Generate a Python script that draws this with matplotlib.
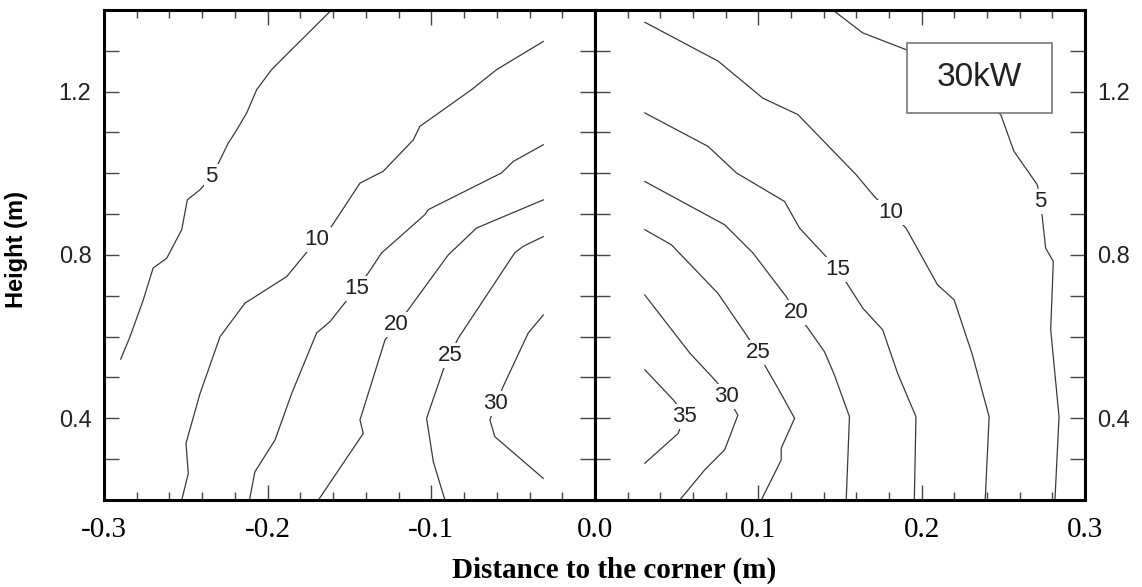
import matplotlib.pyplot as plt
from matplotlib.ticker import MultipleLocator, FixedLocator, FixedFormatter
from matplotlib.patches import Rectangle

# Contour lines, left half (x < 0), levels and traced points
left_levels = [5, 10, 15, 20, 25, 30]
L5_x = [-0.2898, -0.2841, -0.276, -0.270, -0.2617, -0.2525, -0.2491, -0.2413, -0.2342,
        -0.2291, -0.2241, -0.22, -0.2128, -0.2067, -0.1976, -0.1874, -0.161]
L5_y = [0.545, 0.60, 0.69, 0.768, 0.792, 0.862, 0.935, 0.960, 0.992,
        1.033, 1.074, 1.099, 1.148, 1.205, 1.254, 1.295, 1.40]
L10_x = [-0.2525, -0.2485, -0.2499, -0.2413, -0.2291, -0.2139, -0.1884, -0.1783, -0.1701,
         -0.161, -0.1436, -0.1294, -0.111, -0.107, -0.0754, -0.0601, -0.0316]
L10_y = [0.20, 0.265, 0.339, 0.461, 0.600, 0.682, 0.747, 0.796, 0.837,
         0.870, 0.976, 1.005, 1.082, 1.115, 1.205, 1.254, 1.323]
L15_x = [-0.2111, -0.2078, -0.1955, -0.1853, -0.1701, -0.1619, -0.1538, -0.1456,
         -0.1385, -0.1304, -0.1039, -0.1019, -0.0571, -0.05, -0.0316]
L15_y = [0.20, 0.269, 0.347, 0.461, 0.609, 0.637, 0.678, 0.719,
         0.756, 0.805, 0.899, 0.911, 1.001, 1.029, 1.07]
L20_x = [-0.169, -0.1416, -0.1436, -0.1283, -0.1212, -0.1141, -0.0897, -0.0724, -0.0316]
L20_y = [0.20, 0.363, 0.396, 0.592, 0.629, 0.666, 0.80, 0.866, 0.935]
L25_x = [-0.0917, -0.0988, -0.1029, -0.0927, -0.0886, -0.0836, -0.0491, -0.044, -0.0316]
L25_y = [0.20, 0.294, 0.40, 0.519, 0.555, 0.596, 0.805, 0.821, 0.845]
L30_x = [-0.0316, -0.0612, -0.0642, -0.0605, -0.0561, -0.0408, -0.0316]
L30_y = [0.253, 0.355, 0.396, 0.437, 0.478, 0.609, 0.653]
left_x = [L5_x, L10_x, L15_x, L20_x, L25_x, L30_x]
left_y = [L5_y, L10_y, L15_y, L20_y, L25_y, L30_y]
left_label_at = [8, 8, 7, 4, 4, 3]   # index of the point carrying the level label

# Contour lines, right half (x > 0)
right_levels = [5, 10, 15, 20, 25, 30, 35]
R5_x = [0.1456, 0.1639, 0.1904, 0.2484, 0.2565, 0.2708, 0.2729, 0.2739, 0.2759,
        0.2806, 0.279, 0.2841, 0.2816]
R5_y = [1.40, 1.344, 1.303, 1.144, 1.054, 0.972, 0.931, 0.89, 0.817,
        0.784, 0.617, 0.404, 0.20]
R10_x = [0.0305, 0.0753, 0.1028, 0.1242, 0.1598, 0.1711, 0.1812, 0.1904, 0.2097,
         0.2199, 0.2311, 0.2413, 0.2389]
R10_y = [1.37, 1.275, 1.184, 1.144, 0.997, 0.943, 0.903, 0.866, 0.727,
         0.69, 0.555, 0.404, 0.20]
R15_x = [0.0305, 0.0692, 0.0866, 0.1161, 0.1252, 0.1415, 0.1487, 0.1548, 0.1639,
         0.1761, 0.1853, 0.1965, 0.1955]
R15_y = [1.148, 1.066, 1.001, 0.931, 0.866, 0.796, 0.764, 0.727, 0.67,
         0.617, 0.51, 0.404, 0.20]
R20_x = [0.0305, 0.0794, 0.0967, 0.11, 0.1171, 0.1232, 0.1303, 0.1405, 0.1466, 0.1558, 0.1538]
R20_y = [0.98, 0.874, 0.805, 0.735, 0.698, 0.658, 0.621, 0.563, 0.506, 0.404, 0.20]
R25_x = [0.0305, 0.0468, 0.0753, 0.0927, 0.0998, 0.1049, 0.112, 0.1222, 0.114, 0.114, 0.1018]
R25_y = [0.862, 0.825, 0.706, 0.604, 0.561, 0.523, 0.474, 0.40, 0.327, 0.298, 0.20]
R30_x = [0.0305, 0.058, 0.0743, 0.0808, 0.0875, 0.0794, 0.0672, 0.0519]
R30_y = [0.702, 0.56, 0.49, 0.453, 0.408, 0.323, 0.274, 0.20]
R35_x = [0.0305, 0.0489, 0.0546, 0.0509, 0.0305]
R35_y = [0.519, 0.441, 0.404, 0.363, 0.29]
right_x = [R5_x, R10_x, R15_x, R20_x, R25_x, R30_x, R35_x]
right_y = [R5_y, R10_y, R15_y, R20_y, R25_y, R30_y, R35_y]
right_label_at = [6, 6, 6, 5, 4, 3, 2]

power_label = "30kW"

W, H = 1142, 587
fig = plt.figure(figsize=(W / 100, H / 100), dpi=100)
x0, xm, x1 = 104 / W, 595 / W, 1085 / W
y0, y1 = 1 - 500 / H, 1 - 10 / H
ax_l = fig.add_axes([x0, y0, xm - x0, y1 - y0])
ax_r = fig.add_axes([xm, y0, x1 - xm, y1 - y0])

line_col = "#3a3a3a"


def draw_contours(ax, xs, ys, levels, label_at):
    for x, y, lev, i in zip(xs, ys, levels, label_at):
        ax.plot(x, y, color=line_col, lw=0.9, zorder=2)
        # white box behind the number breaks the line
        ax.text(x[i], y[i], str(lev), fontsize=16, family="Liberation Sans",
                color="#222222", ha="center", va="center", zorder=3,
                bbox=dict(fc="white", ec="none", pad=1.5))


draw_contours(ax_l, left_x, left_y, left_levels, left_label_at)
draw_contours(ax_r, right_x, right_y, right_levels, right_label_at)

ax_l.set_xlim(-0.3, 0.0)
ax_r.set_xlim(0.0, 0.3)
for ax in (ax_l, ax_r):
    ax.set_ylim(0.2, 1.4)
    for s in ax.spines.values():
        s.set_linewidth(2.2)
    ax.xaxis.set_minor_locator(MultipleLocator(0.02))
    ax.yaxis.set_minor_locator(MultipleLocator(0.1))
    ax.tick_params(which="both", direction="in", top=True, bottom=True,
                   left=True, right=True, width=1.0, color="#444444")
    ax.tick_params(axis="x", which="major", length=11, pad=12, labelsize=21)
    ax.tick_params(axis="x", which="minor", length=5.5)
    ax.tick_params(axis="y", which="both", length=11, pad=9, labelsize=17)

ax_l.xaxis.set_major_locator(FixedLocator([-0.3, -0.2, -0.1, 0.0]))
ax_l.xaxis.set_major_formatter(FixedFormatter(["-0.3", "-0.2", "-0.1", "0.0"]))
ax_r.xaxis.set_major_locator(FixedLocator([0.0, 0.1, 0.2, 0.3]))
ax_r.xaxis.set_major_formatter(FixedFormatter(["", "0.1", "0.2", "0.3"]))
ax_l.yaxis.set_major_locator(FixedLocator([0.4, 0.8, 1.2]))
ax_r.yaxis.set_major_locator(FixedLocator([0.4, 0.8, 1.2]))
ax_l.tick_params(axis="y", labelleft=True, labelright=False)
ax_r.tick_params(axis="y", labelleft=False, labelright=True)
for ax in (ax_l, ax_r):
    for lab in ax.get_xticklabels():
        lab.set_family("Liberation Serif")
    for lab in ax.get_yticklabels():
        lab.set_family("Liberation Sans")
        lab.set_color("#222222")

ax_l.set_ylabel("Height (m)", fontsize=17, fontweight="bold", family="Liberation Sans")
ax_l.yaxis.set_label_coords(-0.155, 0.512)

fig.text(614 / W, 1 - 578 / H, "Distance to the corner (m)", fontsize=21,
         fontweight="bold", family="Liberation Serif", ha="center", va="baseline")

# power tag in the upper right corner
ax_r.add_patch(Rectangle((0.637, 0.790), 0.296, 0.143, transform=ax_r.transAxes,
                         fc="white", ec="#777777", lw=1.2, zorder=4))
ax_r.text(0.785, 0.8615, power_label, transform=ax_r.transAxes, fontsize=24,
          family="Liberation Sans", color="#222222", ha="center", va="center", zorder=5)

fig.savefig("out.png", dpi=100)
